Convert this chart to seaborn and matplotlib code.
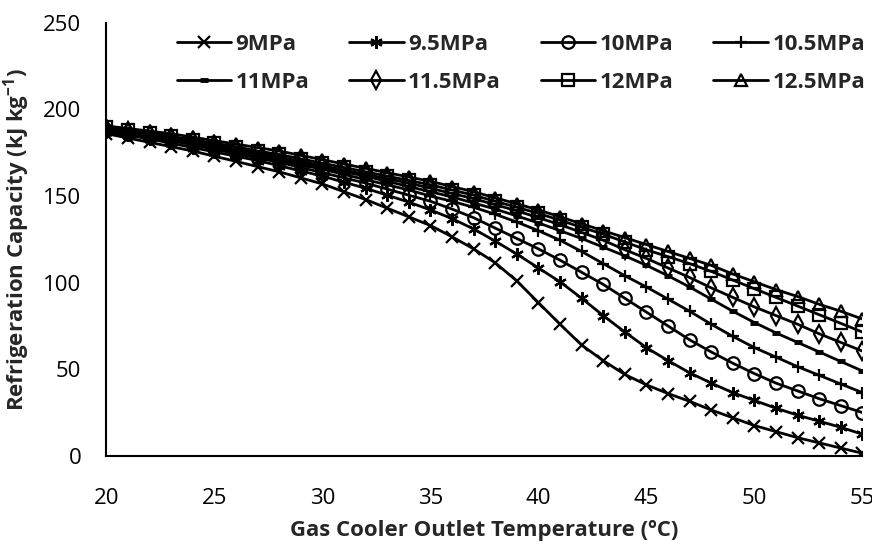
import matplotlib
matplotlib.use('Agg')
import matplotlib.pyplot as plt
import seaborn as sns

# gas cooler outlet temperature, degC
temps = list(range(20, 56))

# refrigeration capacity (kJ/kg) for each gas cooler pressure
rc_9 = [186, 183.5, 181, 178.5, 176, 173, 170, 167, 164, 160.5, 157, 152.5, 148, 143, 138, 133,
        126.5, 119.5, 111.5, 101, 88.5, 76, 64, 55, 47, 41, 36, 31.5, 26.5, 22, 17.5, 14, 10.5, 7.5, 4.5, 1.5]
rc_9_5 = [187, 185, 183, 180.5, 178, 175.5, 173, 170.5, 167.5, 164.5, 161.5, 158, 154.5, 150.5, 146.5, 142,
          137, 131, 124, 116.5, 108.5, 100.5, 91, 81, 71.5, 62.5, 55, 48, 42, 36.5, 32, 27.5, 23.5, 20, 16.5, 12.5]
rc_10 = [188, 186, 184, 182, 179.5, 177, 174.5, 172, 169.5, 166.5, 163.5, 160.5, 157.5, 154, 150.5, 147,
         142.5, 137.5, 131.5, 125.5, 119.5, 113, 106, 99, 91, 83, 75, 67, 60, 53.5, 47.5, 42, 37.5, 33, 29, 25]
rc_10_5 = [188.5, 186.5, 184.5, 182.5, 180.5, 178, 175.5, 173, 170.5, 168, 165.5, 162.5, 159.5, 156.5, 153.5, 150,
           147, 143.5, 139.5, 135, 130, 124.5, 118, 111, 104, 97.5, 90.5, 83.5, 76, 69, 62.5, 57, 51.5, 46.5, 41.5, 36.5]
rc_11 = [189, 187, 185, 183, 181, 179, 176.5, 174, 171.5, 169, 166.5, 164, 161.5, 158.5, 155.5, 152.5,
         149.5, 146, 142.5, 138.5, 134.5, 130, 125.5, 120.5, 115.5, 110, 104, 97.5, 90.5, 83.5, 77, 71, 65.5, 60, 54.5, 49]
rc_11_5 = [189.5, 187.5, 185.5, 183.5, 181.5, 179.5, 177, 175, 172.5, 170, 167.5, 165, 162.5, 160, 157.5, 154.5,
           151.5, 148.5, 145, 141.5, 137.5, 133.5, 129, 124.5, 119, 114, 108.5, 103, 97, 91.5, 86, 81, 76, 70.5, 65.5, 60.5]
rc_12 = [190, 188, 186.5, 184.5, 182.5, 180.5, 178.5, 176, 174, 171.5, 169, 166.5, 164, 161.5, 159, 156.5,
         153.5, 150.5, 147, 143.5, 140, 136, 132, 128, 123.5, 119, 115, 111, 106.5, 101.5, 96.5, 91.5, 86.5, 81.5, 76.5, 71.5]
rc_12_5 = [190.5, 189, 187.5, 186, 184, 182, 180, 178, 176, 173.5, 171, 168.5, 166, 163.5, 161, 158.5,
           155.5, 152.5, 149, 145.5, 142, 138, 134, 130, 126, 122, 118, 114, 110, 105, 100.5, 96, 92, 87.5, 83.5, 79]

labels = ['9MPa', '9.5MPa', '10MPa', '10.5MPa', '11MPa', '11.5MPa', '12MPa', '12.5MPa']
series = [rc_9, rc_9_5, rc_10, rc_10_5, rc_11, rc_11_5, rc_12, rc_12_5]
markers = ['x', (6, 2, 0), 'o', '+', '_', 'd', 's', '^']

sns.set_style('white')
plt.rcParams['font.family'] = ['Open Sans', 'DejaVu Sans']
plt.rcParams['mathtext.fontset'] = 'custom'
plt.rcParams['mathtext.rm'] = 'Open Sans:bold'
plt.rcParams['mathtext.default'] = 'rm'

fig = plt.figure(figsize=(8.72, 5.44), dpi=100)
ax = fig.add_axes([0.122, 0.162, 0.867, 0.796])

for vals, lab, m in zip(series, labels, markers):
    mew = 3.5 if m == '_' else 1.6
    ms = 6 if m == '_' else 9
    sns.lineplot(x=temps, y=vals, ax=ax, color='black', linewidth=2.0, marker=m,
                 markersize=ms, markerfacecolor='none', markeredgecolor='black',
                 markeredgewidth=mew, label=lab)

ax.set_xlim(20, 55)
ax.set_ylim(0, 250)
ax.set_xticks(range(20, 56, 5))
ax.set_yticks(range(0, 251, 50))
sns.despine(ax=ax)
for s in ['left', 'bottom']:
    ax.spines[s].set_color('black')
    ax.spines[s].set_linewidth(1.5)
ax.tick_params(axis='x', direction='out', length=7, width=1, labelsize=16, pad=16, colors='black')
ax.tick_params(axis='y', direction='out', length=7, width=1, labelsize=16, pad=11, colors='black')

ax.set_xlabel('Gas Cooler Outlet Temperature (ºC)', fontsize=16, fontweight='bold', labelpad=8)
ax.set_ylabel(r'Refrigeration Capacity (kJ kg$^{-1}$)', fontsize=16, fontweight='bold', labelpad=8)

# excel fills the legend row by row, matplotlib column by column
handles, labs = ax.get_legend_handles_labels()
order = [0, 4, 1, 5, 2, 6, 3, 7]
ax.legend([handles[i] for i in order], [labs[i] for i in order], ncol=4, frameon=False,
          loc='upper right', bbox_to_anchor=(1.03, 1.02), handlelength=2.45, handletextpad=0.2,
          columnspacing=1.8, labelspacing=0.75,
          prop={'family': 'Open Sans', 'weight': 'bold', 'size': 16})

fig.savefig('out.png', dpi=100)
